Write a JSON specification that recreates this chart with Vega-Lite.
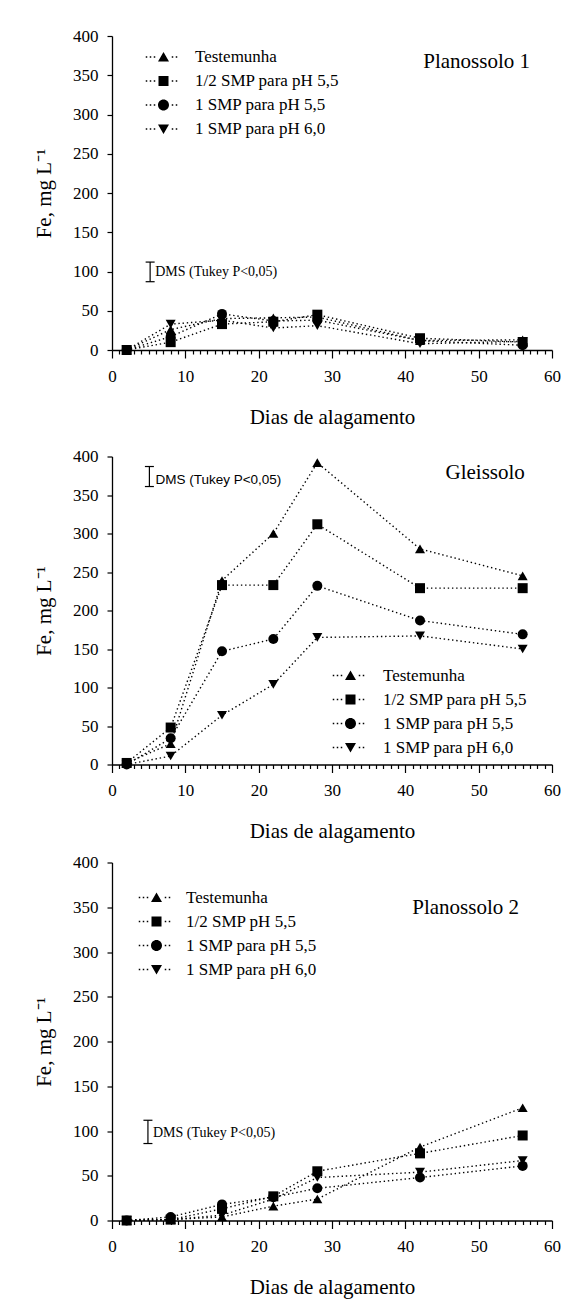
{
  "$schema": "https://vega.github.io/schema/vega-lite/v6.json",
  "padding": {"left": 33, "top": 27, "right": 5, "bottom": 5},
  "background": "white",
  "config": {
    "view": {"stroke": null},
    "axis": {"domainColor": "black", "domainWidth": 1.3, "tickColor": "black", "tickWidth": 1.2, "labelFont": "Liberation Serif", "labelFontSize": 17, "labelColor": "black", "titleFont": "Liberation Serif", "titleFontSize": 21, "titleFontWeight": "normal", "titleColor": "black", "grid": false, "labelOverlap": false, "labelFlush": false},
    "axisX": {"titlePadding": 22, "labelPadding": 10},
    "axisY": {"tickSize": 5, "labelPadding": 9, "titlePadding": 18},
    "legend": {"title": null, "orient": "none", "labelFont": "Liberation Serif", "labelFontSize": 17, "labelColor": "black", "symbolSize": 400, "symbolStrokeWidth": 0, "symbolOpacity": 1, "symbolFillColor": "black", "rowPadding": 6, "labelOffset": 21.5, "padding": 0},
    "text": {"font": "Liberation Serif", "color": "black"}
  },
  "datasets": {
    "p1": [
      {"dia": 2, "trat": "Testemunha", "fe": 0}, {"dia": 8, "trat": "Testemunha", "fe": 26}, {"dia": 15, "trat": "Testemunha", "fe": 40}, {"dia": 22, "trat": "Testemunha", "fe": 41}, {"dia": 28, "trat": "Testemunha", "fe": 42}, {"dia": 42, "trat": "Testemunha", "fe": 12}, {"dia": 56, "trat": "Testemunha", "fe": 13},
      {"dia": 2, "trat": "1/2 SMP para pH 5,5", "fe": 0}, {"dia": 8, "trat": "1/2 SMP para pH 5,5", "fe": 10}, {"dia": 15, "trat": "1/2 SMP para pH 5,5", "fe": 33}, {"dia": 22, "trat": "1/2 SMP para pH 5,5", "fe": 36}, {"dia": 28, "trat": "1/2 SMP para pH 5,5", "fe": 45}, {"dia": 42, "trat": "1/2 SMP para pH 5,5", "fe": 15}, {"dia": 56, "trat": "1/2 SMP para pH 5,5", "fe": 10},
      {"dia": 2, "trat": "1 SMP para pH 5,5", "fe": 0}, {"dia": 8, "trat": "1 SMP para pH 5,5", "fe": 17}, {"dia": 15, "trat": "1 SMP para pH 5,5", "fe": 46}, {"dia": 22, "trat": "1 SMP para pH 5,5", "fe": 37}, {"dia": 28, "trat": "1 SMP para pH 5,5", "fe": 38}, {"dia": 42, "trat": "1 SMP para pH 5,5", "fe": 12}, {"dia": 56, "trat": "1 SMP para pH 5,5", "fe": 6},
      {"dia": 2, "trat": "1 SMP para pH 6,0", "fe": 0}, {"dia": 8, "trat": "1 SMP para pH 6,0", "fe": 33}, {"dia": 15, "trat": "1 SMP para pH 6,0", "fe": 38}, {"dia": 22, "trat": "1 SMP para pH 6,0", "fe": 28}, {"dia": 28, "trat": "1 SMP para pH 6,0", "fe": 31}, {"dia": 42, "trat": "1 SMP para pH 6,0", "fe": 8}, {"dia": 56, "trat": "1 SMP para pH 6,0", "fe": 11}
    ],
    "p2": [
      {"dia": 2, "trat": "Testemunha", "fe": 2}, {"dia": 8, "trat": "Testemunha", "fe": 27}, {"dia": 15, "trat": "Testemunha", "fe": 239}, {"dia": 22, "trat": "Testemunha", "fe": 300}, {"dia": 28, "trat": "Testemunha", "fe": 392}, {"dia": 42, "trat": "Testemunha", "fe": 280}, {"dia": 56, "trat": "Testemunha", "fe": 245},
      {"dia": 2, "trat": "1/2 SMP para pH 5,5", "fe": 2}, {"dia": 8, "trat": "1/2 SMP para pH 5,5", "fe": 48}, {"dia": 15, "trat": "1/2 SMP para pH 5,5", "fe": 233}, {"dia": 22, "trat": "1/2 SMP para pH 5,5", "fe": 233}, {"dia": 28, "trat": "1/2 SMP para pH 5,5", "fe": 312}, {"dia": 42, "trat": "1/2 SMP para pH 5,5", "fe": 229}, {"dia": 56, "trat": "1/2 SMP para pH 5,5", "fe": 229},
      {"dia": 2, "trat": "1 SMP para pH 5,5", "fe": 0}, {"dia": 8, "trat": "1 SMP para pH 5,5", "fe": 34}, {"dia": 15, "trat": "1 SMP para pH 5,5", "fe": 147}, {"dia": 22, "trat": "1 SMP para pH 5,5", "fe": 163}, {"dia": 28, "trat": "1 SMP para pH 5,5", "fe": 232}, {"dia": 42, "trat": "1 SMP para pH 5,5", "fe": 187}, {"dia": 56, "trat": "1 SMP para pH 5,5", "fe": 169},
      {"dia": 2, "trat": "1 SMP para pH 6,0", "fe": 0}, {"dia": 8, "trat": "1 SMP para pH 6,0", "fe": 11}, {"dia": 15, "trat": "1 SMP para pH 6,0", "fe": 64}, {"dia": 22, "trat": "1 SMP para pH 6,0", "fe": 104}, {"dia": 28, "trat": "1 SMP para pH 6,0", "fe": 165}, {"dia": 42, "trat": "1 SMP para pH 6,0", "fe": 167}, {"dia": 56, "trat": "1 SMP para pH 6,0", "fe": 150}
    ],
    "p3": [
      {"dia": 2, "trat": "Testemunha", "fe": 0}, {"dia": 8, "trat": "Testemunha", "fe": 1}, {"dia": 15, "trat": "Testemunha", "fe": 4}, {"dia": 22, "trat": "Testemunha", "fe": 16}, {"dia": 28, "trat": "Testemunha", "fe": 24}, {"dia": 42, "trat": "Testemunha", "fe": 82}, {"dia": 56, "trat": "Testemunha", "fe": 126},
      {"dia": 2, "trat": "1/2 SMP pH 5,5", "fe": 0}, {"dia": 8, "trat": "1/2 SMP pH 5,5", "fe": 1}, {"dia": 15, "trat": "1/2 SMP pH 5,5", "fe": 13}, {"dia": 22, "trat": "1/2 SMP pH 5,5", "fe": 27}, {"dia": 28, "trat": "1/2 SMP pH 5,5", "fe": 55}, {"dia": 42, "trat": "1/2 SMP pH 5,5", "fe": 75}, {"dia": 56, "trat": "1/2 SMP pH 5,5", "fe": 95},
      {"dia": 2, "trat": "1 SMP para pH 5,5", "fe": 0}, {"dia": 8, "trat": "1 SMP para pH 5,5", "fe": 4}, {"dia": 15, "trat": "1 SMP para pH 5,5", "fe": 18}, {"dia": 22, "trat": "1 SMP para pH 5,5", "fe": 26}, {"dia": 28, "trat": "1 SMP para pH 5,5", "fe": 36}, {"dia": 42, "trat": "1 SMP para pH 5,5", "fe": 48}, {"dia": 56, "trat": "1 SMP para pH 5,5", "fe": 61},
      {"dia": 2, "trat": "1 SMP para pH 6,0", "fe": 0}, {"dia": 8, "trat": "1 SMP para pH 6,0", "fe": 1}, {"dia": 15, "trat": "1 SMP para pH 6,0", "fe": 6}, {"dia": 22, "trat": "1 SMP para pH 6,0", "fe": 24}, {"dia": 28, "trat": "1 SMP para pH 6,0", "fe": 48}, {"dia": 42, "trat": "1 SMP para pH 6,0", "fe": 54}, {"dia": 56, "trat": "1 SMP para pH 6,0", "fe": 67}
    ]
  },
  "resolve": {"scale": {"shape": "independent"}, "legend": {"shape": "independent"}},
  "concat": [
    {
      "resolve": {"scale": {"shape": "independent"}, "legend": {"shape": "independent"}},
      "concat": [
        {
          "width": 440, "height": 314,
          "layer": [
            {
              "data": {"name": "p1"},
              "resolve": {"scale": {"shape": "independent"}, "legend": {"shape": "independent"}},
              "encoding": {
                "x": {"field": "dia", "type": "quantitative", "scale": {"domain": [0, 60], "nice": false}, "axis": {"title": "Dias de alagamento", "labelOverlap": false, "values": [0,1,2,3,4,5,6,7,8,9,10,11,12,13,14,15,16,17,18,19,20,21,22,23,24,25,26,27,28,29,30,31,32,33,34,35,36,37,38,39,40,41,42,43,44,45,46,47,48,49,50,51,52,53,54,55,56,57,58,59,60], "labelExpr": "datum.value % 10 == 0 ? datum.label : ''", "tickSize": {"condition": {"test": "datum.value % 10 == 0", "value": 8}, "value": 4}}},
                "y": {"field": "fe", "type": "quantitative", "scale": {"domain": [0, 400], "nice": false}, "axis": {"title": "Fe, mg L⁻¹", "labelOverlap": false, "values": [0,50,100,150,200,250,300,350,400]}}
              },
              "layer": [
                {"mark": {"type": "line", "color": "black", "strokeWidth": 1.4, "strokeDash": [1.4, 2.8]}, "encoding": {"detail": {"field": "trat"}}},
                {"mark": {"type": "point", "filled": true, "color": "black", "opacity": 0},
                 "encoding": {"shape": {"field": "trat", "type": "nominal", "scale": {"domain": ["Testemunha", "1/2 SMP para pH 5,5", "1 SMP para pH 5,5", "1 SMP para pH 6,0"], "range": [
                     "M0,-0.5L0.55,0.45L-0.55,0.45Z M-1.775,-0.075h0.15v0.15h-0.15Z M-1.375,-0.075h0.15v0.15h-0.15Z M-0.975,-0.075h0.15v0.15h-0.15Z M0.825,-0.075h0.15v0.15h-0.15Z M1.225,-0.075h0.15v0.15h-0.15Z",
                     "M-0.5,-0.5H0.5V0.5H-0.5Z M-1.775,-0.075h0.15v0.15h-0.15Z M-1.375,-0.075h0.15v0.15h-0.15Z M-0.975,-0.075h0.15v0.15h-0.15Z M0.825,-0.075h0.15v0.15h-0.15Z M1.225,-0.075h0.15v0.15h-0.15Z",
                     "M-0.55,0A0.55,0.55,0,1,1,0.55,0A0.55,0.55,0,1,1,-0.55,0Z M-1.775,-0.075h0.15v0.15h-0.15Z M-1.375,-0.075h0.15v0.15h-0.15Z M-0.975,-0.075h0.15v0.15h-0.15Z M0.825,-0.075h0.15v0.15h-0.15Z M1.225,-0.075h0.15v0.15h-0.15Z",
                     "M0,0.5L0.55,-0.45L-0.55,-0.45Z M-1.775,-0.075h0.15v0.15h-0.15Z M-1.375,-0.075h0.15v0.15h-0.15Z M-0.975,-0.075h0.15v0.15h-0.15Z M0.825,-0.075h0.15v0.15h-0.15Z M1.225,-0.075h0.15v0.15h-0.15Z"]},
                   "legend": {"legendX": 41.5, "legendY": 11}}}},
                {"mark": {"type": "point", "filled": true, "color": "black", "opacity": 1, "size": 100},
                 "encoding": {"shape": {"field": "trat", "type": "nominal", "scale": {"domain": ["Testemunha", "1/2 SMP para pH 5,5", "1 SMP para pH 5,5", "1 SMP para pH 6,0"], "range": ["triangle-up", "square", "circle", "triangle-down"]}, "legend": null}}}
              ]
            },
            {
              "data": {"values": [{"dia": 5.2, "lo": 87, "hi": 112}]},
              "encoding": {
                "x": {"field": "dia", "type": "quantitative", "axis": {"title": "Dias de alagamento", "labelOverlap": false, "values": [0,1,2,3,4,5,6,7,8,9,10,11,12,13,14,15,16,17,18,19,20,21,22,23,24,25,26,27,28,29,30,31,32,33,34,35,36,37,38,39,40,41,42,43,44,45,46,47,48,49,50,51,52,53,54,55,56,57,58,59,60], "labelExpr": "datum.value % 10 == 0 ? datum.label : ''", "tickSize": {"condition": {"test": "datum.value % 10 == 0", "value": 8}, "value": 4}}},
                "y": {"field": "lo", "type": "quantitative", "axis": {"title": "Fe, mg L⁻¹", "labelOverlap": false, "values": [0,50,100,150,200,250,300,350,400]}}
              },
              "layer": [
                {"mark": {"type": "rule", "color": "black", "strokeWidth": 1.2}, "encoding": {"y2": {"field": "hi"}}},
                {"mark": {"type": "tick", "orient": "horizontal", "color": "black", "size": 9, "thickness": 1.2, "opacity": 1}},
                {"mark": {"type": "tick", "orient": "horizontal", "color": "black", "size": 9, "thickness": 1.2, "opacity": 1}, "encoding": {"y": {"field": "hi", "type": "quantitative", "axis": {"title": "Fe, mg L⁻¹", "labelOverlap": false, "values": [0,50,100,150,200,250,300,350,400]}}}}
              ]
            },
            {"data": {"values": [{"rotulo": "DMS (Tukey P<0,05)"}]}, "mark": {"type": "text", "align": "left", "baseline": "middle", "fontSize": 14, "dx": 5},
             "encoding": {"text": {"field": "rotulo"},
               "x": {"datum": 5.2, "type": "quantitative", "axis": {"title": "Dias de alagamento", "labelOverlap": false, "values": [0,1,2,3,4,5,6,7,8,9,10,11,12,13,14,15,16,17,18,19,20,21,22,23,24,25,26,27,28,29,30,31,32,33,34,35,36,37,38,39,40,41,42,43,44,45,46,47,48,49,50,51,52,53,54,55,56,57,58,59,60], "labelExpr": "datum.value % 10 == 0 ? datum.label : ''", "tickSize": {"condition": {"test": "datum.value % 10 == 0", "value": 8}, "value": 4}}},
               "y": {"datum": 99, "type": "quantitative", "axis": {"title": "Fe, mg L⁻¹", "labelOverlap": false, "values": [0,50,100,150,200,250,300,350,400]}}}},
            {"data": {"values": [{"rotulo": "Planossolo 1"}]}, "mark": {"type": "text", "align": "right", "baseline": "middle", "fontSize": 21},
             "encoding": {"text": {"field": "rotulo"},
               "x": {"datum": 57, "type": "quantitative", "axis": {"title": "Dias de alagamento", "labelOverlap": false, "values": [0,1,2,3,4,5,6,7,8,9,10,11,12,13,14,15,16,17,18,19,20,21,22,23,24,25,26,27,28,29,30,31,32,33,34,35,36,37,38,39,40,41,42,43,44,45,46,47,48,49,50,51,52,53,54,55,56,57,58,59,60], "labelExpr": "datum.value % 10 == 0 ? datum.label : ''", "tickSize": {"condition": {"test": "datum.value % 10 == 0", "value": 8}, "value": 4}}},
               "y": {"datum": 367, "type": "quantitative", "axis": {"title": "Fe, mg L⁻¹", "labelOverlap": false, "values": [0,50,100,150,200,250,300,350,400]}}}}
          ]
        },
        {
          "width": 440, "height": 308,
          "layer": [
            {
              "data": {"name": "p2"},
              "resolve": {"scale": {"shape": "independent"}, "legend": {"shape": "independent"}},
              "encoding": {
                "x": {"field": "dia", "type": "quantitative", "scale": {"domain": [0, 60], "nice": false}, "axis": {"title": "Dias de alagamento", "labelOverlap": false, "values": [0,1,2,3,4,5,6,7,8,9,10,11,12,13,14,15,16,17,18,19,20,21,22,23,24,25,26,27,28,29,30,31,32,33,34,35,36,37,38,39,40,41,42,43,44,45,46,47,48,49,50,51,52,53,54,55,56,57,58,59,60], "labelExpr": "datum.value % 10 == 0 ? datum.label : ''", "tickSize": {"condition": {"test": "datum.value % 10 == 0", "value": 8}, "value": 4}}},
                "y": {"field": "fe", "type": "quantitative", "scale": {"domain": [0, 400], "nice": false}, "axis": {"title": "Fe, mg L⁻¹", "labelOverlap": false, "values": [0,50,100,150,200,250,300,350,400]}}
              },
              "layer": [
                {"mark": {"type": "line", "color": "black", "strokeWidth": 1.4, "strokeDash": [1.4, 2.8]}, "encoding": {"detail": {"field": "trat"}}},
                {"mark": {"type": "point", "filled": true, "color": "black", "opacity": 0},
                 "encoding": {"shape": {"field": "trat", "type": "nominal", "scale": {"domain": ["Testemunha", "1/2 SMP para pH 5,5", "1 SMP para pH 5,5", "1 SMP para pH 6,0"], "range": [
                     "M0,-0.5L0.55,0.45L-0.55,0.45Z M-1.775,-0.075h0.15v0.15h-0.15Z M-1.375,-0.075h0.15v0.15h-0.15Z M-0.975,-0.075h0.15v0.15h-0.15Z M0.825,-0.075h0.15v0.15h-0.15Z M1.225,-0.075h0.15v0.15h-0.15Z",
                     "M-0.5,-0.5H0.5V0.5H-0.5Z M-1.775,-0.075h0.15v0.15h-0.15Z M-1.375,-0.075h0.15v0.15h-0.15Z M-0.975,-0.075h0.15v0.15h-0.15Z M0.825,-0.075h0.15v0.15h-0.15Z M1.225,-0.075h0.15v0.15h-0.15Z",
                     "M-0.55,0A0.55,0.55,0,1,1,0.55,0A0.55,0.55,0,1,1,-0.55,0Z M-1.775,-0.075h0.15v0.15h-0.15Z M-1.375,-0.075h0.15v0.15h-0.15Z M-0.975,-0.075h0.15v0.15h-0.15Z M0.825,-0.075h0.15v0.15h-0.15Z M1.225,-0.075h0.15v0.15h-0.15Z",
                     "M0,0.5L0.55,-0.45L-0.55,-0.45Z M-1.775,-0.075h0.15v0.15h-0.15Z M-1.375,-0.075h0.15v0.15h-0.15Z M-0.975,-0.075h0.15v0.15h-0.15Z M0.825,-0.075h0.15v0.15h-0.15Z M1.225,-0.075h0.15v0.15h-0.15Z"]},
                   "legend": {"legendX": 228.5, "legendY": 209, "labelOffset": 22.5}}}},
                {"mark": {"type": "point", "filled": true, "color": "black", "opacity": 1, "size": 100},
                 "encoding": {"shape": {"field": "trat", "type": "nominal", "scale": {"domain": ["Testemunha", "1/2 SMP para pH 5,5", "1 SMP para pH 5,5", "1 SMP para pH 6,0"], "range": ["triangle-up", "square", "circle", "triangle-down"]}, "legend": null}}}
              ]
            },
            {
              "data": {"values": [{"dia": 5.1, "lo": 361, "hi": 387}]},
              "encoding": {
                "x": {"field": "dia", "type": "quantitative", "axis": {"title": "Dias de alagamento", "labelOverlap": false, "values": [0,1,2,3,4,5,6,7,8,9,10,11,12,13,14,15,16,17,18,19,20,21,22,23,24,25,26,27,28,29,30,31,32,33,34,35,36,37,38,39,40,41,42,43,44,45,46,47,48,49,50,51,52,53,54,55,56,57,58,59,60], "labelExpr": "datum.value % 10 == 0 ? datum.label : ''", "tickSize": {"condition": {"test": "datum.value % 10 == 0", "value": 8}, "value": 4}}},
                "y": {"field": "lo", "type": "quantitative", "axis": {"title": "Fe, mg L⁻¹", "labelOverlap": false, "values": [0,50,100,150,200,250,300,350,400]}}
              },
              "layer": [
                {"mark": {"type": "rule", "color": "black", "strokeWidth": 1.2}, "encoding": {"y2": {"field": "hi"}}},
                {"mark": {"type": "tick", "orient": "horizontal", "color": "black", "size": 9, "thickness": 1.2, "opacity": 1}},
                {"mark": {"type": "tick", "orient": "horizontal", "color": "black", "size": 9, "thickness": 1.2, "opacity": 1}, "encoding": {"y": {"field": "hi", "type": "quantitative", "axis": {"title": "Fe, mg L⁻¹", "labelOverlap": false, "values": [0,50,100,150,200,250,300,350,400]}}}}
              ]
            },
            {"data": {"values": [{"rotulo": "DMS (Tukey P<0,05)"}]}, "mark": {"type": "text", "align": "left", "baseline": "middle", "font": "Liberation Sans", "fontSize": 13.5, "dx": 6},
             "encoding": {"text": {"field": "rotulo"},
               "x": {"datum": 5.1, "type": "quantitative", "axis": {"title": "Dias de alagamento", "labelOverlap": false, "values": [0,1,2,3,4,5,6,7,8,9,10,11,12,13,14,15,16,17,18,19,20,21,22,23,24,25,26,27,28,29,30,31,32,33,34,35,36,37,38,39,40,41,42,43,44,45,46,47,48,49,50,51,52,53,54,55,56,57,58,59,60], "labelExpr": "datum.value % 10 == 0 ? datum.label : ''", "tickSize": {"condition": {"test": "datum.value % 10 == 0", "value": 8}, "value": 4}}},
               "y": {"datum": 370, "type": "quantitative", "axis": {"title": "Fe, mg L⁻¹", "labelOverlap": false, "values": [0,50,100,150,200,250,300,350,400]}}}},
            {"data": {"values": [{"rotulo": "Gleissolo"}]}, "mark": {"type": "text", "align": "right", "baseline": "middle", "fontSize": 21},
             "encoding": {"text": {"field": "rotulo"},
               "x": {"datum": 56.3, "type": "quantitative", "axis": {"title": "Dias de alagamento", "labelOverlap": false, "values": [0,1,2,3,4,5,6,7,8,9,10,11,12,13,14,15,16,17,18,19,20,21,22,23,24,25,26,27,28,29,30,31,32,33,34,35,36,37,38,39,40,41,42,43,44,45,46,47,48,49,50,51,52,53,54,55,56,57,58,59,60], "labelExpr": "datum.value % 10 == 0 ? datum.label : ''", "tickSize": {"condition": {"test": "datum.value % 10 == 0", "value": 8}, "value": 4}}},
               "y": {"datum": 379, "type": "quantitative", "axis": {"title": "Fe, mg L⁻¹", "labelOverlap": false, "values": [0,50,100,150,200,250,300,350,400]}}}}
          ]
        }
      ],
      "columns": 1,
      "spacing": 20.5
    },
    {
      "width": 440, "height": 358,
      "layer": [
        {
          "data": {"name": "p3"},
          "resolve": {"scale": {"shape": "independent"}, "legend": {"shape": "independent"}},
          "encoding": {
            "x": {"field": "dia", "type": "quantitative", "scale": {"domain": [0, 60], "nice": false}, "axis": {"title": "Dias de alagamento", "labelOverlap": false, "values": [0,1,2,3,4,5,6,7,8,9,10,11,12,13,14,15,16,17,18,19,20,21,22,23,24,25,26,27,28,29,30,31,32,33,34,35,36,37,38,39,40,41,42,43,44,45,46,47,48,49,50,51,52,53,54,55,56,57,58,59,60], "labelExpr": "datum.value % 10 == 0 ? datum.label : ''", "tickSize": {"condition": {"test": "datum.value % 10 == 0", "value": 8}, "value": 4}}},
            "y": {"field": "fe", "type": "quantitative", "scale": {"domain": [0, 400], "nice": false}, "axis": {"title": "Fe, mg L⁻¹", "labelOverlap": false, "values": [0,50,100,150,200,250,300,350,400]}}
          },
          "layer": [
            {"mark": {"type": "line", "color": "black", "strokeWidth": 1.4, "strokeDash": [1.4, 2.8]}, "encoding": {"detail": {"field": "trat"}}},
            {"mark": {"type": "point", "filled": true, "color": "black", "opacity": 0},
             "encoding": {"shape": {"field": "trat", "type": "nominal", "scale": {"domain": ["Testemunha", "1/2 SMP pH 5,5", "1 SMP para pH 5,5", "1 SMP para pH 6,0"], "range": [
                 "M0,-0.5L0.55,0.45L-0.55,0.45Z M-1.775,-0.075h0.15v0.15h-0.15Z M-1.375,-0.075h0.15v0.15h-0.15Z M-0.975,-0.075h0.15v0.15h-0.15Z M0.825,-0.075h0.15v0.15h-0.15Z M1.225,-0.075h0.15v0.15h-0.15Z",
                 "M-0.5,-0.5H0.5V0.5H-0.5Z M-1.775,-0.075h0.15v0.15h-0.15Z M-1.375,-0.075h0.15v0.15h-0.15Z M-0.975,-0.075h0.15v0.15h-0.15Z M0.825,-0.075h0.15v0.15h-0.15Z M1.225,-0.075h0.15v0.15h-0.15Z",
                 "M-0.55,0A0.55,0.55,0,1,1,0.55,0A0.55,0.55,0,1,1,-0.55,0Z M-1.775,-0.075h0.15v0.15h-0.15Z M-1.375,-0.075h0.15v0.15h-0.15Z M-0.975,-0.075h0.15v0.15h-0.15Z M0.825,-0.075h0.15v0.15h-0.15Z M1.225,-0.075h0.15v0.15h-0.15Z",
                 "M0,0.5L0.55,-0.45L-0.55,-0.45Z M-1.775,-0.075h0.15v0.15h-0.15Z M-1.375,-0.075h0.15v0.15h-0.15Z M-0.975,-0.075h0.15v0.15h-0.15Z M0.825,-0.075h0.15v0.15h-0.15Z M1.225,-0.075h0.15v0.15h-0.15Z"]},
               "legend": {"legendX": 34.5, "legendY": 25, "labelOffset": 19.5}}}},
            {"mark": {"type": "point", "filled": true, "color": "black", "opacity": 1, "size": 100},
             "encoding": {"shape": {"field": "trat", "type": "nominal", "scale": {"domain": ["Testemunha", "1/2 SMP pH 5,5", "1 SMP para pH 5,5", "1 SMP para pH 6,0"], "range": ["triangle-up", "square", "circle", "triangle-down"]}, "legend": null}}}
          ]
        },
        {
          "data": {"values": [{"dia": 4.9, "lo": 86, "hi": 112}]},
          "encoding": {
            "x": {"field": "dia", "type": "quantitative", "axis": {"title": "Dias de alagamento", "labelOverlap": false, "values": [0,1,2,3,4,5,6,7,8,9,10,11,12,13,14,15,16,17,18,19,20,21,22,23,24,25,26,27,28,29,30,31,32,33,34,35,36,37,38,39,40,41,42,43,44,45,46,47,48,49,50,51,52,53,54,55,56,57,58,59,60], "labelExpr": "datum.value % 10 == 0 ? datum.label : ''", "tickSize": {"condition": {"test": "datum.value % 10 == 0", "value": 8}, "value": 4}}},
            "y": {"field": "lo", "type": "quantitative", "axis": {"title": "Fe, mg L⁻¹", "labelOverlap": false, "values": [0,50,100,150,200,250,300,350,400]}}
          },
          "layer": [
            {"mark": {"type": "rule", "color": "black", "strokeWidth": 1.2}, "encoding": {"y2": {"field": "hi"}}},
            {"mark": {"type": "tick", "orient": "horizontal", "color": "black", "size": 9, "thickness": 1.2, "opacity": 1}},
            {"mark": {"type": "tick", "orient": "horizontal", "color": "black", "size": 9, "thickness": 1.2, "opacity": 1}, "encoding": {"y": {"field": "hi", "type": "quantitative", "axis": {"title": "Fe, mg L⁻¹", "labelOverlap": false, "values": [0,50,100,150,200,250,300,350,400]}}}}
          ]
        },
        {"data": {"values": [{"rotulo": "DMS (Tukey P<0,05)"}]}, "mark": {"type": "text", "align": "left", "baseline": "middle", "fontSize": 14, "dx": 5},
         "encoding": {"text": {"field": "rotulo"},
           "x": {"datum": 4.9, "type": "quantitative", "axis": {"title": "Dias de alagamento", "labelOverlap": false, "values": [0,1,2,3,4,5,6,7,8,9,10,11,12,13,14,15,16,17,18,19,20,21,22,23,24,25,26,27,28,29,30,31,32,33,34,35,36,37,38,39,40,41,42,43,44,45,46,47,48,49,50,51,52,53,54,55,56,57,58,59,60], "labelExpr": "datum.value % 10 == 0 ? datum.label : ''", "tickSize": {"condition": {"test": "datum.value % 10 == 0", "value": 8}, "value": 4}}},
           "y": {"datum": 98, "type": "quantitative", "axis": {"title": "Fe, mg L⁻¹", "labelOverlap": false, "values": [0,50,100,150,200,250,300,350,400]}}}},
        {"data": {"values": [{"rotulo": "Planossolo 2"}]}, "mark": {"type": "text", "align": "right", "baseline": "middle", "fontSize": 21},
         "encoding": {"text": {"field": "rotulo"},
           "x": {"datum": 55.5, "type": "quantitative", "axis": {"title": "Dias de alagamento", "labelOverlap": false, "values": [0,1,2,3,4,5,6,7,8,9,10,11,12,13,14,15,16,17,18,19,20,21,22,23,24,25,26,27,28,29,30,31,32,33,34,35,36,37,38,39,40,41,42,43,44,45,46,47,48,49,50,51,52,53,54,55,56,57,58,59,60], "labelExpr": "datum.value % 10 == 0 ? datum.label : ''", "tickSize": {"condition": {"test": "datum.value % 10 == 0", "value": 8}, "value": 4}}},
           "y": {"datum": 349, "type": "quantitative", "axis": {"title": "Fe, mg L⁻¹", "labelOverlap": false, "values": [0,50,100,150,200,250,300,350,400]}}}}
      ]
    }
  ],
  "columns": 1,
  "spacing": 11.5
}
